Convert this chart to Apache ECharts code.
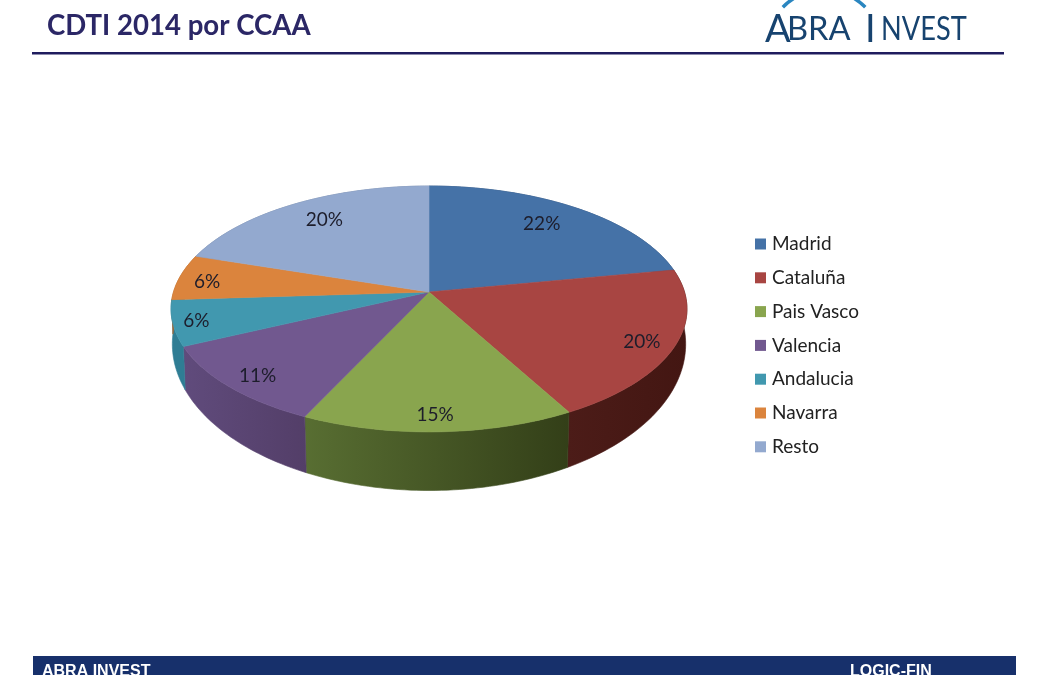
<!DOCTYPE html>
<html>
<head>
<meta charset="utf-8">
<style>html,body{margin:0;padding:0;background:#fff}#c{width:1040px;height:675px}</style>
<script src="https://cdn.jsdelivr.net/npm/echarts@6/dist/echarts.min.js"></script>
</head>
<body>
<div id="c"></div>
<script>
const categories = ['Madrid','Cataluña','Pais Vasco','Valencia','Andalucia','Navarra','Resto'];
const shares = [22,20,15,11,6,6,20];
const topColors = ['#4572a7','#a84542','#89a54e','#71588f','#4198af','#db843d','#93a9cf'];
const sideLeft  = ['#2d4a70','#4c1c18','#586e32','#604b7c','#2f7d94','#a8642c','#6c7f9f'];
const sideRight = ['#2d4a70','#431612','#333f18','#533e68','#2f7d94','#a8642c','#6c7f9f'];
const labelNudge = [[-9,1],[1,3],[-2,0],[3,2],[-13,2],[-11,2],[7,0]];

const chart = echarts.init(document.getElementById('c'), null, {renderer:'canvas'});
const total = shares.reduce((a,b)=>a+b,0);
const topFace = {cx:429, cy:292, a:255.5, b:120.6, k:0.138};
const botFace = {cx:429, cy:325, a:254.5, b:144, k:0.13};
function proj(f, deg){
  const t = deg*Math.PI/180, u = Math.sin(t), v = -Math.cos(t), d = 1 - f.k*v;
  return [f.cx + f.a*u/d, f.cy + f.b*v/d];
}
function range(i){
  let s = 0; for(let j=0;j<i;j++) s += shares[j];
  return [s/total*360, (s+shares[i])/total*360];
}
function arc(f, a0, a1){
  const pts = [], n = Math.max(2, Math.ceil(Math.abs(a1-a0)/1.2));
  for(let j=0;j<=n;j++) pts.push(proj(f, a0+(a1-a0)*j/n));
  return pts;
}
function renderTop(i){
  return function(){
    const [a0,a1] = range(i);
    const pts = [[topFace.cx, topFace.cy]].concat(arc(topFace,a0,a1));
    const mid = (a0+a1)/2, v = -Math.cos(mid*Math.PI/180);
    const frac = 0.85 + 0.03*v;
    const edge = proj(topFace, mid);
    const lx = topFace.cx + (edge[0]-topFace.cx)*frac + labelNudge[i][0];
    const ly = topFace.cy + (edge[1]-topFace.cy)*frac + labelNudge[i][1];
    return {type:'group', children:[
      {type:'polygon', shape:{points:pts}, style:{fill:topColors[i], stroke:topColors[i], lineWidth:0.6}},
      {type:'text', z2:10, style:{x:lx, y:ly, text:shares[i]+'%', fill:'#1d1d2b', font:'19px Lato', textAlign:'center', textVerticalAlign:'middle'}}
    ]};
  };
}
function renderSide(i){
  return function(){
    const [a0,a1] = range(i);
    const pts = arc(topFace,a0,a1).concat(arc(botFace,a1,a0));
    const xs = pts.map(p=>p[0]), x0 = Math.min(...xs), x1 = Math.max(...xs);
    const grad = new echarts.graphic.LinearGradient(x0,0,x1,0,[{offset:0,color:sideLeft[i]},{offset:1,color:sideRight[i]}],true);
    return {type:'polygon', shape:{points:pts}, style:{fill:grad, stroke:grad, lineWidth:0.6}};
  };
}
const series = [];
categories.forEach((name,i)=>{
  series.push({type:'custom', name, coordinateSystem:'none', z:1, silent:true, itemStyle:{color:topColors[i]}, renderItem:renderSide(i), data:[shares[i]]});
});
categories.forEach((name,i)=>{
  series.push({type:'custom', name, coordinateSystem:'none', z:2, silent:true, itemStyle:{color:topColors[i]}, renderItem:renderTop(i), data:[shares[i]]});
});
const logoColor = '#17436f';
function logoText(text, x, size, sx){
  return {type:'text', z:6, x, y:29.5, scaleX:sx, style:{x:0, y:0, text, fill:logoColor, font:size+'px Lato', textVerticalAlign:'middle'}};
}
chart.setOption({
  animation:false,
  backgroundColor:'#ffffff',
  title:{text:'CDTI 2014 por CCAA', left:42, top:7, textStyle:{color:'#2b2766', fontFamily:'Lato', fontWeight:'bold', fontSize:27.6}},
  legend:{data:categories, orient:'vertical', left:750, top:229, icon:'rect', itemWidth:11, itemHeight:11, itemGap:13.8, selectedMode:false,
    textStyle:{fontFamily:'Lato', fontSize:19, lineHeight:20, color:'#222', padding:[0,0,0,1]}},
  series,
  graphic:[
    {type:'rect', z:5, shape:{x:32,y:52,width:972,height:2.5}, style:{fill:'#1f1c5e'}},
    {type:'rect', z:5, shape:{x:33,y:656,width:983,height:19}, style:{fill:'#17306b'}},
    {type:'text', z:6, style:{x:42,y:664,text:'ABRA INVEST',fill:'#fff',font:'bold 16px "Liberation Sans"'}},
    {type:'text', z:6, style:{x:850,y:664,text:'LOGIC-FIN',fill:'#fff',font:'bold 16px "Liberation Sans"'}},
    logoText('A',765,38,1),
    logoText('BRA',787,32,1.02),
    logoText('I',865,38,1),
    logoText('NVEST',881,32,0.85),
    {type:'arc', z:6, shape:{cx:824,cy:48,r:58,startAngle:-2.36,endAngle:-0.78}, style:{stroke:'#2a86c0',lineWidth:3.5,fill:null}}
  ]
});
</script>
</body>
</html>
